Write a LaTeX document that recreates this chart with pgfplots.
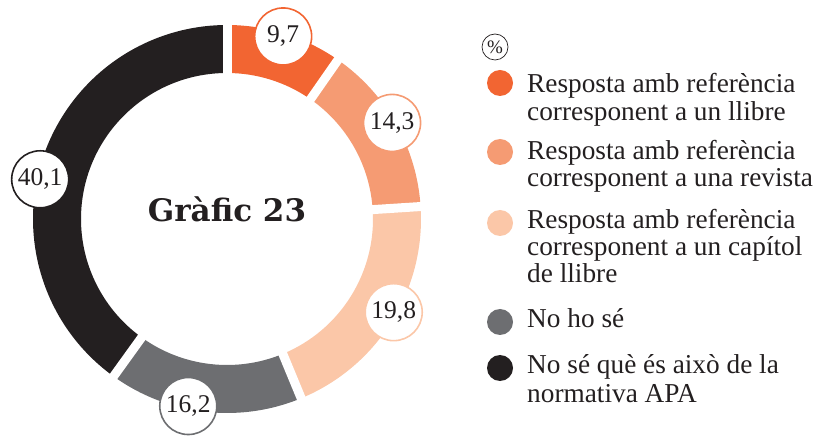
\documentclass[border=0pt]{standalone}
\usepackage{pgfplots}
\usepackage{pgfplotstable}
\pgfplotsset{compat=1.18}
\usepackage{fontspec}
\setmainfont{Liberation Serif}
\newfontfamily\titlefont{DejaVu Serif}
\definecolor{col0}{HTML}{F26532}
\definecolor{col1}{HTML}{F59B73}
\definecolor{col2}{HTML}{FBC7A8}
\definecolor{col3}{HTML}{6D6E71}
\definecolor{col4}{HTML}{231F20}
\definecolor{txt}{HTML}{231F20}

% value, angle at which its label circle sits
\pgfplotstableread{
val labang
9.7 72.9
14.3 30.2
19.8 -29.2
16.2 -101.7
40.1 168
}\donutdata

\begin{document}
\begin{tikzpicture}
\def\cx{227}\def\cy{220}\def\Ro{194}\def\Ri{146}\def\Rl{191}
\def\cumsum{0}
\pgfmathsetmacro\total{100.1}
\pgfplotsforeachungrouped \i in {0,...,4}{%
  \pgfplotstablegetelem{\i}{val}\of\donutdata
  \let\myv\pgfplotsretval
  \pgfmathsetmacro\aS{90-\cumsum/\total*360}%
  \pgfmathsetmacro\cumsum{\cumsum+\myv}%
  \pgfmathsetmacro\aE{90-\cumsum/\total*360}%
  \expandafter\xdef\csname aS\i\endcsname{\aS}%
  \expandafter\xdef\csname aE\i\endcsname{\aE}%
  \expandafter\xdef\csname v\i\endcsname{\myv}%
  \pgfplotstablegetelem{\i}{labang}\of\donutdata
  \expandafter\xdef\csname aL\i\endcsname{\pgfplotsretval}%
}
\begin{axis}[width=824pt,height=439pt,scale only axis,
  xmin=0,xmax=824,ymin=0,ymax=439,hide axis,clip=false]
\path (axis cs:0,0) rectangle (axis cs:824,439);
% ring segments
\pgfplotsforeachungrouped \i in {0,...,4}{%
  \edef\temp{\noexpand\fill[col\i, shift={(axis cs:\cx,\cy)}]
    (\csname aS\i\endcsname:\Ro) arc[start angle=\csname aS\i\endcsname, end angle=\csname aE\i\endcsname, radius=\Ro]
    -- (\csname aE\i\endcsname:\Ri) arc[start angle=\csname aE\i\endcsname, end angle=\csname aS\i\endcsname, radius=\Ri] -- cycle;}%
  \temp
}
% gaps
\pgfplotsforeachungrouped \i in {0,...,4}{%
  \edef\temp{\noexpand\draw[white, line width=9pt, shift={(axis cs:\cx,\cy)}]
    (\csname aS\i\endcsname:140) -- (\csname aS\i\endcsname:200);}%
  \temp
}
% value labels
\pgfplotsforeachungrouped \i in {0,...,4}{%
  \edef\temp{\noexpand\path[shift={(axis cs:\cx,\cy)}] (\csname aL\i\endcsname:\Rl)
    node[circle, draw=col\i, line width=1.6pt, fill=white, minimum size=57pt, inner sep=0pt,
      text=txt, font=\noexpand\fontsize{25.5}{25.5}\noexpand\selectfont]
    {\noexpand\pgfmathprintnumber[use comma,fixed,fixed zerofill,precision=1,assume math mode=true]{\csname v\i\endcsname}};}%
  \temp
}
\node[anchor=base, text=txt, font=\titlefont\bfseries\fontsize{31}{31}\selectfont] at (axis cs:\cx,217) {Gràfic 23};
% legend
\node[circle, draw=txt, line width=0.7pt, minimum size=26pt, inner sep=0pt, text=txt,
  font=\fontsize{19}{19}\selectfont] at (axis cs:495,392) {\%};
\fill[col0] (axis cs:500,356) circle[radius=13pt];
\fill[col1] (axis cs:500,287) circle[radius=13pt];
\fill[col2] (axis cs:500,216) circle[radius=13pt];
\fill[col3] (axis cs:500,117) circle[radius=13pt];
\fill[col4] (axis cs:500,71) circle[radius=13pt];
\tikzset{leg/.style={anchor=base west, inner sep=0pt, text=txt, font=\fontsize{27.3}{27.3}\selectfont}}
\node[leg] at (axis cs:527,346) {Resposta amb referència};
\node[leg] at (axis cs:527,318.5) {corresponent a un llibre};
\node[leg] at (axis cs:527,279) {Resposta amb referència};
\node[leg] at (axis cs:527,252) {corresponent a una revista};
\node[leg] at (axis cs:527,210) {Resposta amb referència};
\node[leg] at (axis cs:527,183.5) {corresponent a un capítol};
\node[leg] at (axis cs:527,156) {de llibre};
\node[leg] at (axis cs:527,111) {No ho sé};
\node[leg] at (axis cs:527,65) {No sé què és això de la};
\node[leg] at (axis cs:527,37) {normativa APA};
\end{axis}
\end{tikzpicture}
\end{document}
